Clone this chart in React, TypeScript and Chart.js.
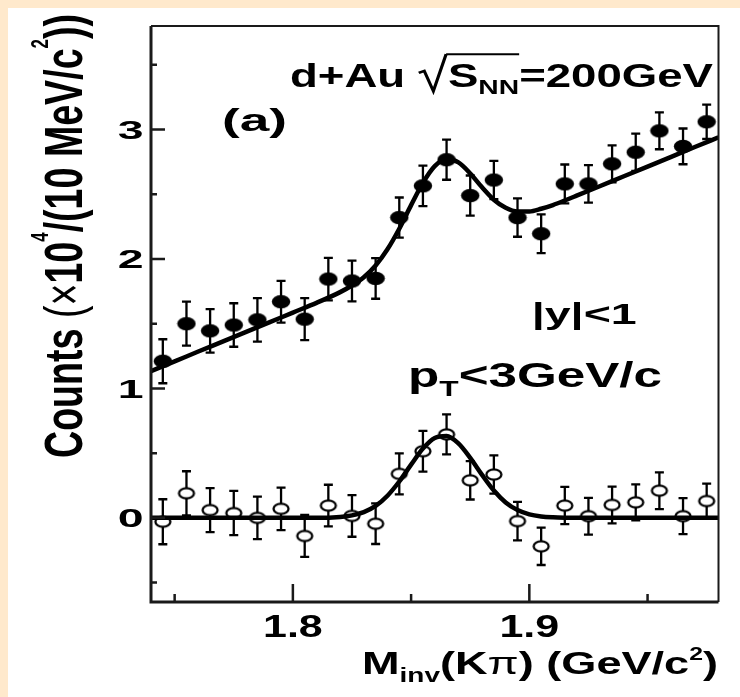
import React, { useEffect, useRef } from "react";
import { Chart, registerables } from "chart.js";

Chart.register(...registerables);

// ---- data ----
const massBins = [1.745, 1.755, 1.765, 1.775, 1.785, 1.795, 1.805, 1.815, 1.825, 1.835, 1.845, 1.855, 1.865, 1.875, 1.885, 1.895, 1.905, 1.915, 1.925, 1.935, 1.945, 1.955, 1.965, 1.975];
const totalCounts = [1.21, 1.5, 1.445, 1.49, 1.53, 1.67, 1.535, 1.845, 1.83, 1.85, 2.32, 2.565, 2.767, 2.49, 2.61, 2.32, 2.195, 2.58, 2.58, 2.735, 2.825, 2.99, 2.87, 3.06];
const totalErrors = [0.17, 0.17, 0.168, 0.168, 0.168, 0.161, 0.162, 0.164, 0.157, 0.157, 0.155, 0.156, 0.155, 0.155, 0.148, 0.148, 0.15, 0.15, 0.145, 0.142, 0.144, 0.142, 0.138, 0.133];
const signalCounts = [-0.03, 0.19, 0.06, 0.037, 0.0, 0.07, -0.14, 0.095, 0.015, -0.045, 0.34, 0.515, 0.645, 0.29, 0.335, -0.025, -0.22, 0.095, 0.013, 0.1, 0.12, 0.21, 0.013, 0.13];
const signalErrors = [0.174, 0.17, 0.17, 0.171, 0.164, 0.164, 0.162, 0.161, 0.161, 0.157, 0.158, 0.157, 0.155, 0.148, 0.148, 0.149, 0.144, 0.144, 0.142, 0.142, 0.139, 0.142, 0.139, 0.134];

const fitMass = [1.74, 1.75, 1.76, 1.77, 1.78, 1.79, 1.8, 1.81, 1.82, 1.825, 1.83, 1.835, 1.84, 1.845, 1.85, 1.855, 1.86, 1.865, 1.87, 1.875, 1.88, 1.885, 1.89, 1.895, 1.9, 1.905, 1.91, 1.915, 1.92, 1.93, 1.94, 1.95, 1.96, 1.97, 1.98];
const fitTotal = [1.134, 1.209, 1.285, 1.36, 1.435, 1.51, 1.586, 1.661, 1.744, 1.795, 1.859, 1.95, 2.075, 2.234, 2.416, 2.588, 2.717, 2.772, 2.746, 2.661, 2.554, 2.458, 2.395, 2.366, 2.367, 2.388, 2.417, 2.452, 2.489, 2.564, 2.639, 2.714, 2.789, 2.865, 2.94];
const fitSignal = [0, 0, 0, 0, 0, 0, 0, 0, 0.007, 0.019, 0.044, 0.092, 0.171, 0.281, 0.411, 0.535, 0.617, 0.632, 0.575, 0.463, 0.332, 0.211, 0.119, 0.06, 0.027, 0.011, 0.004, 0.001, 0, 0, 0, 0, 0, 0, 0];

const xMajorTicks = [1.8, 1.9];
const xTickLabels = ["1.8", "1.9"];
const xMinorTicks = [1.75, 1.85, 1.95];
const yMajorTicks = [0, 1, 2, 3];
const yTickLabels = ["0", "1", "2", "3"];
const yMinorTicks = [-0.5, 0.5, 1.5, 2.5, 3.5];

const X_MIN = 1.74;
const X_MAX = 1.98;
const Y_MIN = -0.65;
const Y_MAX = 3.8;

// ---- rich text helper ----
type Seg = { t: string; normal?: boolean; s?: number; dy?: number; rad?: boolean; olEnd?: boolean };
const BASE = 40;
const FAMILY = '"Liberation Sans", Arial, Helvetica, sans-serif';
function fontOf(s: Seg) {
  return `${s.normal ? "normal" : "bold"} ${BASE * (s.s ?? 1)}px ${FAMILY}`;
}
function drawRich(
  ctx: CanvasRenderingContext2D,
  segs: Seg[],
  o: { x: number; y: number; cap: number; width?: number; stretch?: number; align?: "left" | "center" | "right"; rotate?: boolean }
) {
  const widths = segs.map((s) => {
    if (s.rad) return 0.66 * BASE;
    ctx.font = fontOf(s);
    return ctx.measureText(s.t).width;
  });
  const natural = widths.reduce((p, c) => p + c, 0);
  const sy = o.cap / (0.716 * BASE);
  const sx = o.width != null ? o.width / natural : sy * (o.stretch ?? 1);
  const total = natural * sx;
  let x0 = 0;
  if (o.align === "center") x0 = -total / 2;
  else if (o.align === "right") x0 = -total;
  ctx.save();
  ctx.translate(o.x, o.y);
  if (o.rotate) ctx.rotate(-Math.PI / 2);
  ctx.translate(x0, 0);
  ctx.scale(sx, sy);
  ctx.fillStyle = "#000";
  ctx.strokeStyle = "#000";
  ctx.textBaseline = "alphabetic";
  ctx.textAlign = "left";
  let cx = 0;
  let ol: number | null = null;
  segs.forEach((s, i) => {
    if (s.rad) {
      ctx.lineWidth = 0.07 * BASE;
      ctx.lineJoin = "miter";
      ctx.beginPath();
      ctx.moveTo(cx + 0.02 * BASE, -0.42 * BASE);
      ctx.lineTo(cx + 0.14 * BASE, -0.48 * BASE);
      ctx.lineTo(cx + 0.34 * BASE, 0.12 * BASE);
      ctx.lineTo(cx + 0.62 * BASE, -0.98 * BASE);
      ctx.stroke();
      ol = cx + 0.62 * BASE;
    } else {
      ctx.font = fontOf(s);
      ctx.fillText(s.t, cx, (s.dy ?? 0) * BASE);
    }
    cx += widths[i];
    if (s.olEnd && ol !== null) {
      ctx.lineWidth = 0.06 * BASE;
      ctx.beginPath();
      ctx.moveTo(ol, -0.98 * BASE);
      ctx.lineTo(cx, -0.98 * BASE);
      ctx.stroke();
      ol = null;
    }
  });
  ctx.restore();
}

function makeMarker(filled: boolean) {
  const c = document.createElement("canvas");
  c.width = 20;
  c.height = 15;
  const g = c.getContext("2d")!;
  g.beginPath();
  if (filled) {
    g.ellipse(10, 7.5, 9.2, 6.7, 0, 0, Math.PI * 2);
    g.fillStyle = "#000";
    g.fill();
  } else {
    g.ellipse(10, 7.5, 7.5, 5.1, 0, 0, Math.PI * 2);
    g.fillStyle = "#fff";
    g.fill();
    g.lineWidth = 2.3;
    g.strokeStyle = "#000";
    g.stroke();
  }
  return c;
}

const errorBarPlugin = {
  id: "errorBars",
  beforeDatasetsDraw(chart: any) {
    const { ctx, scales } = chart;
    const xs = scales.x;
    const ys = scales.y;
    ctx.save();
    ctx.strokeStyle = "#000";
    ctx.lineWidth = 2.3;
    const series = [
      [totalCounts, totalErrors],
      [signalCounts, signalErrors],
    ];
    series.forEach(([vals, errs]) => {
      massBins.forEach((m, i) => {
        const x = xs.getPixelForValue(m);
        const y1 = ys.getPixelForValue(vals[i] + errs[i]);
        const y2 = ys.getPixelForValue(vals[i] - errs[i]);
        ctx.beginPath();
        ctx.moveTo(x, y1);
        ctx.lineTo(x, y2);
        ctx.moveTo(x - 4.5, y1);
        ctx.lineTo(x + 4.5, y1);
        ctx.moveTo(x - 4.5, y2);
        ctx.lineTo(x + 4.5, y2);
        ctx.stroke();
      });
    });
    ctx.restore();
  },
};

const framePlugin = {
  id: "frameAndText",
  afterDraw(chart: any) {
    const { ctx, chartArea: a, scales } = chart;
    const xs = scales.x;
    const ys = scales.y;
    ctx.save();
    ctx.strokeStyle = "#1a1a1a";
    ctx.lineWidth = 2;
    ctx.beginPath();
    ctx.moveTo(a.left, a.top);
    ctx.lineTo(a.right, a.top);
    ctx.lineTo(a.right, a.bottom);
    ctx.stroke();
    ctx.lineWidth = 3;
    ctx.beginPath();
    ctx.moveTo(a.left, a.top);
    ctx.lineTo(a.left, a.bottom);
    ctx.lineTo(a.right, a.bottom);
    ctx.stroke();

    ctx.lineWidth = 2.5;
    ctx.beginPath();
    yMajorTicks.forEach((v) => {
      const y = ys.getPixelForValue(v);
      ctx.moveTo(a.left, y);
      ctx.lineTo(a.left + 14, y);
    });
    yMinorTicks.forEach((v) => {
      const y = ys.getPixelForValue(v);
      ctx.moveTo(a.left, y);
      ctx.lineTo(a.left + 6, y);
    });
    xMajorTicks.forEach((v) => {
      const x = xs.getPixelForValue(v);
      ctx.moveTo(x, a.bottom);
      ctx.lineTo(x, a.bottom - 18);
    });
    xMinorTicks.forEach((v) => {
      const x = xs.getPixelForValue(v);
      ctx.moveTo(x, a.bottom);
      ctx.lineTo(x, a.bottom - 8);
    });
    ctx.stroke();
    ctx.restore();

    // tick labels
    yMajorTicks.forEach((v, i) => {
      drawRich(ctx, [{ t: yTickLabels[i] }], { x: a.left - 7.5, y: ys.getPixelForValue(v) + 9.5, cap: 19, stretch: 1.75, align: "right" });
    });
    xMajorTicks.forEach((v, i) => {
      drawRich(ctx, [{ t: xTickLabels[i] }], { x: xs.getPixelForValue(v), y: a.bottom + 35, cap: 22, stretch: 1.4, align: "center" });
    });

    // axis titles
    drawRich(
      ctx,
      [{ t: "M" }, { t: "inv", s: 0.62, dy: 0.25 }, { t: "(K" }, { t: "π", normal: true }, { t: ") (GeV/c" }, { t: "2", s: 0.55, dy: -0.45 }, { t: ")" }],
      { x: 354, y: 666, cap: 23, width: 356 }
    );
    drawRich(
      ctx,
      [{ t: "Counts " }, { t: "(×", normal: true }, { t: "10" }, { t: "4", s: 0.45, dy: -0.62 }, { t: "/(10 MeV/c" }, { t: "2", s: 0.45, dy: -0.62 }, { t: "))" }],
      { x: 74, y: 450, cap: 39, width: 444, rotate: true }
    );

    // annotations
    drawRich(
      ctx,
      [{ t: "d+Au " }, { t: "", rad: true }, { t: "S" }, { t: "NN", s: 0.62, dy: 0.2, olEnd: true }, { t: "=200GeV" }],
      { x: 282, y: 79, cap: 24, width: 423 }
    );
    drawRich(ctx, [{ t: "(a)" }], { x: 214, y: 122.5, cap: 22, width: 65 });
    drawRich(ctx, [{ t: "|y|<1" }], { x: 523.7, y: 316, cap: 21, width: 105 });
    drawRich(ctx, [{ t: "p" }, { t: "T", s: 0.62, dy: 0.25 }, { t: "<3GeV/c" }], { x: 400, y: 379, cap: 25.5, width: 254 });
  },
};

export default function App() {
  const ref = useRef<HTMLCanvasElement>(null);
  useEffect(() => {
    const canvas = ref.current!;
    const filled = makeMarker(true);
    const open = makeMarker(false);
    const chart = new Chart(canvas, {
      type: "line",
      data: {
        datasets: [
          {
            label: "fit total",
            data: fitMass.map((x, i) => ({ x, y: fitTotal[i] })),
            borderColor: "#000",
            borderWidth: 4.5,
            pointRadius: 0,
            cubicInterpolationMode: "monotone",
            fill: false,
            order: 0,
          },
          {
            label: "fit signal",
            data: fitMass.map((x, i) => ({ x, y: fitSignal[i] })),
            borderColor: "#000",
            borderWidth: 4.5,
            pointRadius: 0,
            cubicInterpolationMode: "monotone",
            fill: false,
            order: 0,
          },
          {
            label: "d+Au",
            data: massBins.map((x, i) => ({ x, y: totalCounts[i] })),
            showLine: false,
            pointStyle: filled as any,
            pointRadius: 9,
            order: 1,
          },
          {
            label: "signal",
            data: massBins.map((x, i) => ({ x, y: signalCounts[i] })),
            showLine: false,
            pointStyle: open as any,
            pointRadius: 9,
            order: 2,
          },
        ],
      },
      options: {
        responsive: false,
        animation: false,
        events: [],
        layout: { padding: { left: 143, right: 21.5, top: 18, bottom: 95 } },
        scales: {
          x: { type: "linear", min: X_MIN, max: X_MAX, display: false },
          y: { type: "linear", min: Y_MIN, max: Y_MAX, display: false },
        },
        plugins: { legend: { display: false }, tooltip: { enabled: false } },
      },
      plugins: [errorBarPlugin, framePlugin],
    } as any);
    return () => chart.destroy();
  }, []);

  return (
    <div style={{ position: "fixed", left: 0, top: 0, width: 740, height: 697, background: "#FFE9CC", overflow: "hidden" }}>
      <div style={{ position: "absolute", left: 8, top: 8, width: 732, height: 689, background: "#fff" }}>
        <canvas ref={ref} width={732} height={689} style={{ display: "block", width: 732, height: 689 }} />
      </div>
    </div>
  );
}
